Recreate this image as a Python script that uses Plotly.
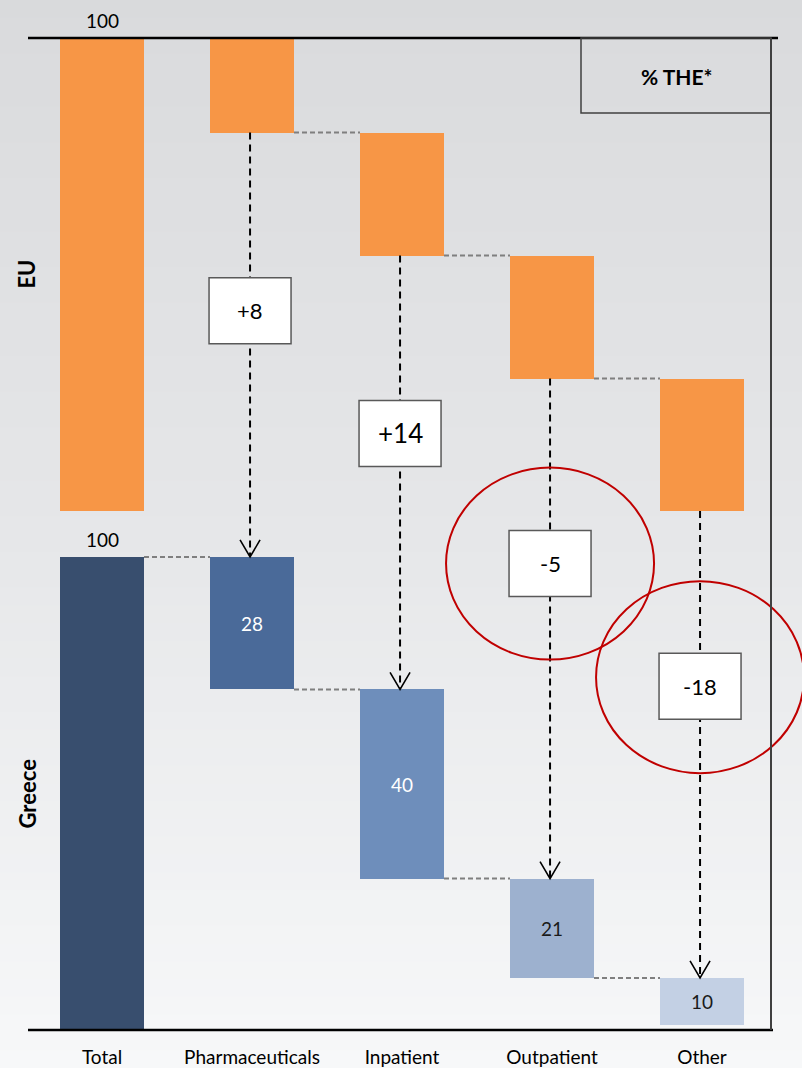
import plotly.graph_objects as go

# Shares of total health expenditure (% THE), EU average vs Greece
categories = ["Total", "Pharmaceuticals", "Inpatient", "Outpatient", "Other"]
eu_values = [100, 20, 26, 26, 28]
greece_values = [100, 28, 40, 21, 10]
greece_labels = ["", "28", "40", "21", "10"]
section_names = ["EU", "Greece"]
unit_title = "% THE*"

# ---- geometry -------------------------------------------------------------
W, H = 802, 1068
M_L, M_R, M_T, M_B = 28, 31, 38, 38
X_RANGE = [-0.4933, 4.46]
Y_RANGE = [0, 209.7]
EU_OFFSET = 109.7          # EU block sits above the Greece block
BAR_W = 0.56
BOX_FRAC = [0, 0.42, 0.41, 0.37, 0.375]   # where each value box sits along its arrow

plot_w = W - M_L - M_R
plot_h = H - M_T - M_B
px_per_x = plot_w / (X_RANGE[1] - X_RANGE[0])
px_per_y = plot_h / (Y_RANGE[1] - Y_RANGE[0])


def to_paper_x(x):
    return (x - X_RANGE[0]) / (X_RANGE[1] - X_RANGE[0])


def to_paper_y(y):
    return (y - Y_RANGE[0]) / (Y_RANGE[1] - Y_RANGE[0])


def pix_to_paper_x(p):
    return (p - M_L) / plot_w


def pix_to_paper_y(p):
    return (H - M_B - p) / plot_h


# waterfall bases, running down from the 100% total
def waterfall(values):
    bases, tops = [0], [values[0]]
    level = values[0]
    for v in values[1:]:
        tops.append(level)
        level -= v
        bases.append(level)
    return bases, tops


eu_bases, eu_tops = waterfall(eu_values)
gr_bases, gr_tops = waterfall(greece_values)
diffs = [g - e for g, e in zip(greece_values, eu_values)]

ORANGE = "#F79646"
GREECE_COLORS = ["#384E6E", "#4A6A99", "#6E8EBB", "#9DB1CF", "#C3D0E4"]
GREECE_TEXT = ["white", "white", "white", "#1a1a1a", "#1a1a1a"]
FONT = "Lato"

fig = go.Figure()

fig.add_trace(go.Bar(
    x=list(range(len(categories))), y=eu_values,
    base=[b + EU_OFFSET for b in eu_bases],
    width=BAR_W, marker=dict(color=ORANGE, line=dict(width=0)),
    hoverinfo="skip", showlegend=False,
))
fig.add_trace(go.Bar(
    x=list(range(len(categories))), y=greece_values, base=gr_bases,
    width=BAR_W, marker=dict(color=GREECE_COLORS, line=dict(width=0)),
    text=greece_labels, textposition="inside", insidetextanchor="middle",
    textangle=0, textfont=dict(family=FONT, size=19, color=GREECE_TEXT),
    hoverinfo="skip", showlegend=False,
))

shapes = []

# background: soft vertical gray gradient
stops = [(0.0, (217, 218, 220)), (0.5, (230, 231, 233)), (1.0, (247, 248, 249))]


def grad(t):
    for (t0, c0), (t1, c1) in zip(stops[:-1], stops[1:]):
        if t0 <= t <= t1:
            f = (t - t0) / (t1 - t0)
            return tuple(round(a + (b - a) * f) for a, b in zip(c0, c1))
    return stops[-1][1]


N_BANDS = 60
for k in range(N_BANDS):
    p0 = H * k / N_BANDS
    p1 = H * (k + 1) / N_BANDS + 1
    r, g, b = grad((k + 0.5) / N_BANDS)
    shapes.append(dict(
        type="rect", xref="paper", yref="paper", layer="below",
        x0=pix_to_paper_x(-2), x1=pix_to_paper_x(W + 2),
        y0=pix_to_paper_y(p1), y1=pix_to_paper_y(p0),
        fillcolor=f"rgb({r},{g},{b})", line=dict(width=0),
    ))

half = BAR_W / 2
CONN = dict(color="#7F7F7F", width=2, dash="5px,3px")

# EU connectors between consecutive step bars
for i in range(1, len(categories) - 1):
    y = EU_OFFSET + eu_bases[i]
    shapes.append(dict(type="line", xref="x", yref="y", x0=i + half, x1=i + 1 - half,
                       y0=y, y1=y, line=CONN))
# Greece connectors
for i in range(0, len(categories) - 1):
    y = gr_tops[0] if i == 0 else gr_bases[i]
    shapes.append(dict(type="line", xref="x", yref="y", x0=i + half, x1=i + 1 - half,
                       y0=y, y1=y, line=CONN))

annotations = []

# difference arrows with value boxes
HEAD_DX = 10 / px_per_x
HEAD_DY = 17 / px_per_y
BOX_HW = 41 / px_per_x
BOX_HH = 33 / px_per_y
box_sizes = {14: 26}
for i in range(1, len(categories)):
    xa = i - 0.013
    y_start = EU_OFFSET + eu_bases[i]
    y_end = gr_tops[i]
    shapes.append(dict(type="line", xref="x", yref="y", x0=xa, x1=xa,
                       y0=y_start, y1=y_end + 0.3,
                       line=dict(color="black", width=2, dash="7px,5px")))
    shapes.append(dict(type="path", xref="x", yref="y",
                       path=f"M {xa - HEAD_DX},{y_end + HEAD_DY} L {xa},{y_end} L {xa + HEAD_DX},{y_end + HEAD_DY}",
                       line=dict(color="black", width=1.6)))
    yb = y_start - BOX_FRAC[i] * (y_start - y_end)
    shapes.append(dict(type="rect", xref="x", yref="y",
                       x0=xa - BOX_HW, x1=xa + BOX_HW, y0=yb - BOX_HH, y1=yb + BOX_HH,
                       fillcolor="white", line=dict(color="#595959", width=1.5)))
    d = diffs[i]
    annotations.append(dict(x=xa, y=yb, xref="x", yref="y", text=f"{d:+d}",
                            showarrow=False, xanchor="center", yanchor="middle",
                            font=dict(family=FONT, size=box_sizes.get(d, 22), color="black")))
    # highlight the categories where Greece spends less than the EU
    if d < 0:
        cx = to_paper_x(xa)
        cy = to_paper_y(yb + (9 / px_per_y if i == 4 else 0))
        rx = 104 / plot_w
        ry = 96 / plot_h
        shapes.append(dict(type="circle", xref="paper", yref="paper",
                           x0=cx - rx, x1=cx + rx, y0=cy - ry, y1=cy + ry,
                           line=dict(color="#C00000", width=2)))

# frame lines
shapes.append(dict(type="line", xref="paper", yref="paper",
                   x0=0, x1=pix_to_paper_x(778), y0=1, y1=1,
                   line=dict(color="black", width=2.5)))
shapes.append(dict(type="line", xref="paper", yref="paper",
                   x0=0, x1=pix_to_paper_x(773), y0=0, y1=0,
                   line=dict(color="black", width=2.5)))
shapes.append(dict(type="line", xref="paper", yref="paper",
                   x0=pix_to_paper_x(771), x1=pix_to_paper_x(771), y0=0, y1=1,
                   line=dict(color="#404040", width=2)))
# unit box
shapes.append(dict(type="rect", xref="paper", yref="paper",
                   x0=pix_to_paper_x(581), x1=pix_to_paper_x(771),
                   y0=pix_to_paper_y(113), y1=1,
                   line=dict(color="#404040", width=1.5)))
annotations.append(dict(xref="paper", yref="paper",
                        x=pix_to_paper_x(676), y=pix_to_paper_y(76),
                        xanchor="center", yanchor="middle",
                        text=f"<b>{unit_title}</b>", showarrow=False,
                        font=dict(family=FONT, size=21, color="black")))

# total labels above the two 100% bars
for yv in (EU_OFFSET + eu_values[0], greece_values[0]):
    annotations.append(dict(x=0, y=yv, xref="x", yref="y",
                            text=str(int(round(yv - (EU_OFFSET if yv > 100 else 0)))),
                            showarrow=False, xanchor="center", yanchor="bottom", yshift=4,
                            font=dict(family=FONT, size=19, color="black")))

# section titles
annotations.append(dict(xref="paper", yref="y", x=pix_to_paper_x(27), y=EU_OFFSET + 50,
                        xanchor="center", yanchor="middle",
                        text=f"<b>{section_names[0]}</b>", textangle=-90, showarrow=False,
                        font=dict(family=FONT, size=22, color="black")))
annotations.append(dict(xref="paper", yref="y", x=pix_to_paper_x(27), y=50,
                        xanchor="center", yanchor="middle",
                        text=f"<b>{section_names[1]}</b>", textangle=-90, showarrow=False,
                        font=dict(family=FONT, size=22, color="black")))

fig.update_layout(
    width=W, height=H,
    margin=dict(l=M_L, r=M_R, t=M_T, b=M_B, pad=0, autoexpand=False),
    paper_bgcolor="rgb(230,231,233)",
    plot_bgcolor="rgba(0,0,0,0)",
    barmode="overlay",
    bargap=0,
    shapes=shapes,
    annotations=annotations,
    xaxis=dict(range=X_RANGE, tickvals=list(range(len(categories))), ticktext=categories,
               showgrid=False, zeroline=False, showline=False, automargin=False,
               ticks="outside", ticklen=10, tickcolor="rgba(0,0,0,0)",
               tickfont=dict(family=FONT, size=19, color="black"), fixedrange=True),
    yaxis=dict(range=Y_RANGE, visible=False, showgrid=False, zeroline=False,
               automargin=False, fixedrange=True),
    font=dict(family=FONT),
)

fig.write_html("out.html")
